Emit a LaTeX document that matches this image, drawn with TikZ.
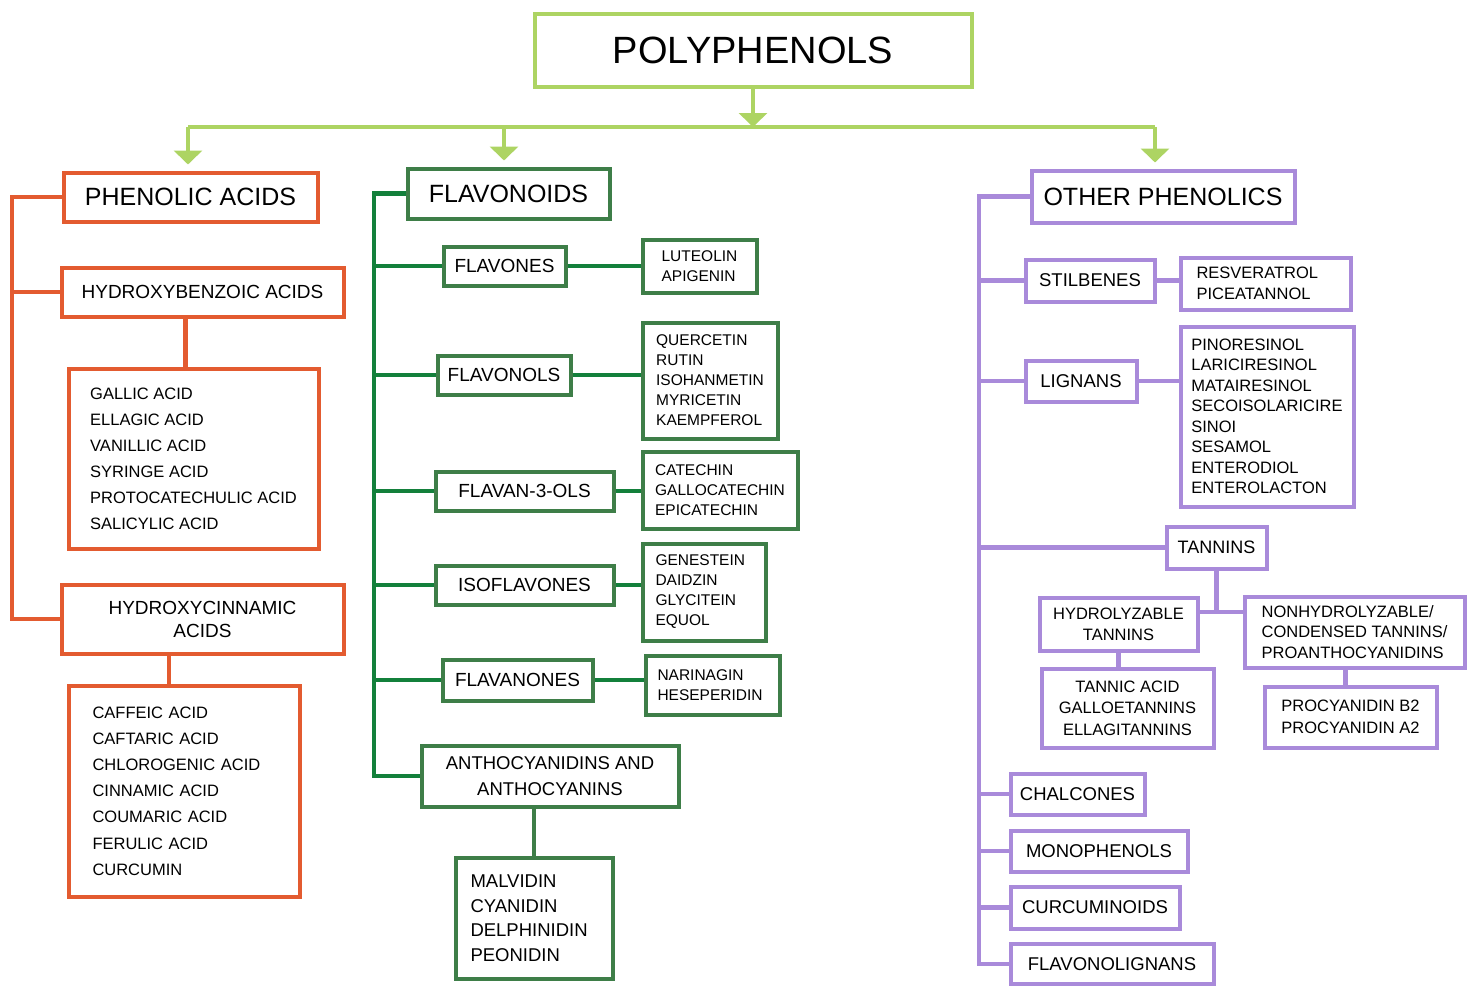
\documentclass[tikz,border=0pt]{standalone}
\usepackage{fontspec}
\setmainfont{Liberation Sans}
\usepackage{xcolor}
\usepackage{tikz}
\usetikzlibrary{arrows.meta}

\definecolor{lgreen}{HTML}{ADD463}
\definecolor{orng}{HTML}{E35B30}
\definecolor{dgreen}{HTML}{3E7E48}
\definecolor{lnkgreen}{HTML}{13803B}
\definecolor{purp}{HTML}{A98ADA}

\begin{document}
\begin{tikzpicture}[x=1pt,y=-1pt]
	\tikzstyle{box}=[draw, line width=4pt, inner sep=0pt, align=center]
	\tikzstyle{head}=[box, font=\fontsize{25}{30}\selectfont]
	\tikzstyle{sub}=[box, font=\fontsize{19}{23}\selectfont]
	\tikzstyle{items}=[box, align=left, font=\fontsize{15.5}{20}\selectfont]
	\tikzstyle{link}=[line width=4.5pt]
	\tikzstyle{arr}=[link, draw=lgreen, -{Triangle[width=28pt,length=14pt]}]
	\useasboundingbox (0,0) rectangle (1467,986);

	% top level
	\node[box, draw=lgreen, minimum width=437pt, minimum height=73pt, font=\fontsize{38}{40}\selectfont] (poly) at (753,50) {POLYPHENOLS};
	\node[head, draw=orng, minimum width=254pt, minimum height=49pt] (phen) at (190.5,197) {PHENOLIC ACIDS};
	\node[head, draw=dgreen, minimum width=202pt, minimum height=50pt] (flav) at (508.5,193.5) {FLAVONOIDS};
	\node[head, draw=purp, minimum width=263pt, minimum height=52pt] (other) at (1163,196.5) {OTHER PHENOLICS};
	\coordinate (bus) at (753,127);
	\coordinate (b1) at (188,127);
	\coordinate (b2) at (504,127);
	\coordinate (b3) at (1155,127);
	\draw[link, draw=lgreen] (b1) -- (b3);
	\draw[arr] (poly.south) -- (bus);
	\draw[arr, shorten >=6pt] (b1) -- (b1 |- phen.north);
	\draw[arr, shorten >=6pt] (b2) -- (b2 |- flav.north);
	\draw[arr, shorten >=6pt] (b3) -- (b3 |- other.north);

	% phenolic acids
	\node[sub, draw=orng, minimum width=282pt, minimum height=49pt] (hba) at (202.5,292) {HYDROXYBENZOIC ACIDS};
	\node[items, draw=orng, minimum width=250pt, minimum height=180pt, font=\fontsize{16.5}{26}\selectfont] (hbal) at (193.5,458.5) {GALLIC ACID\\ELLAGIC ACID\\VANILLIC ACID\\SYRINGE ACID\\PROTOCATECHULIC ACID\\SALICYLIC ACID};
	\node[sub, draw=orng, minimum width=282pt, minimum height=69pt] (hca) at (202.5,619) {HYDROXYCINNAMIC\\ACIDS};
	\node[items, draw=orng, minimum width=231pt, minimum height=211pt, text width=183pt, font=\fontsize{16.5}{26.2}\selectfont] (hcal) at (184,791) {CAFFEIC ACID\\CAFTARIC ACID\\CHLOROGENIC ACID\\CINNAMIC ACID\\COUMARIC ACID\\FERULIC ACID\\CURCUMIN};
	\coordinate (ot) at (12,197);
	\draw[link, draw=orng] (phen.west) -- (ot) |- (hca.west);
	\draw[link, draw=orng] (hba.west) -- (hba.west -| ot);
	\draw[link, draw=orng] ([xshift=-8pt]hbal.north) -- ([xshift=-8pt]hbal.north |- hba.south);
	\draw[link, draw=orng] ([xshift=-15pt]hcal.north) -- ([xshift=-15pt]hcal.north |- hca.south);

	% flavonoids
	\node[sub, draw=dgreen, minimum width=122pt, minimum height=39pt] (fnes) at (504.5,266) {FLAVONES};
	\node[items, draw=dgreen, minimum width=114pt, minimum height=53pt] (fnesl) at (699.5,266) {LUTEOLIN\\APIGENIN};
	\node[sub, draw=dgreen, minimum width=133pt, minimum height=39pt] (fnol) at (504,375) {FLAVONOLS};
	\node[items, draw=dgreen, minimum width=135pt, minimum height=116pt] (fnoll) at (710,380.5) {QUERCETIN\\RUTIN\\ISOHANMETIN\\MYRICETIN\\KAEMPFEROL};
	\node[sub, draw=dgreen, minimum width=178pt, minimum height=39pt] (f3) at (524.5,491) {FLAVAN-3-OLS};
	\node[items, draw=dgreen, minimum width=155pt, minimum height=77pt] (f3l) at (720,490) {CATECHIN\\GALLOCATECHIN\\EPICATECHIN};
	\node[sub, draw=dgreen, minimum width=178pt, minimum height=39pt] (iso) at (524.5,585) {ISOFLAVONES};
	\node[items, draw=dgreen, minimum width=123pt, minimum height=97pt, text width=97pt] (isol) at (704,592) {GENESTEIN\\DAIDZIN\\GLYCITEIN\\EQUOL};
	\node[sub, draw=dgreen, minimum width=150pt, minimum height=41pt] (fnon) at (517.5,680) {FLAVANONES};
	\node[items, draw=dgreen, minimum width=134pt, minimum height=59pt, text width=110pt] (fnonl) at (712.5,685) {NARINAGIN\\HESEPERIDIN};
	\node[sub, draw=dgreen, minimum width=257pt, minimum height=61pt, font=\fontsize{18.5}{26}\selectfont] (anth) at (550,776) {ANTHOCYANIDINS AND\\ANTHOCYANINS};
	\node[items, draw=dgreen, minimum width=157pt, minimum height=121pt, text width=127pt, font=\fontsize{18.5}{24.5}\selectfont] (anthl) at (534,918) {MALVIDIN\\CYANIDIN\\DELPHINIDIN\\PEONIDIN};
	\coordinate (gt) at (374,193.5);
	\draw[link, draw=lnkgreen] (flav.west) -- (gt) |- (anth.west);
	\foreach \n in {fnes, fnol, f3, iso, fnon}
		\draw[link, draw=lnkgreen] (\n.west) -- (\n.west -| gt);
	\draw[link, draw=lnkgreen] (fnes.east) -- (fnesl.west);
	\draw[link, draw=lnkgreen] (fnol.east) -- (fnol.east -| fnoll.west);
	\draw[link, draw=lnkgreen] (f3.east) -- (f3.east -| f3l.west);
	\draw[link, draw=lnkgreen] (iso.east) -- (iso.east -| isol.west);
	\draw[link, draw=lnkgreen] (fnon.east) -- (fnon.east -| fnonl.west);
	\draw[link, draw=dgreen] (anthl.north) -- (anthl.north |- anth.south);

	% other phenolics
	\node[sub, draw=purp, minimum width=129pt, minimum height=42pt, font=\fontsize{18.5}{22}\selectfont] (stil) at (1090,280.5) {STILBENES};
	\node[items, draw=purp, minimum width=170pt, minimum height=52pt, text width=138pt, font=\fontsize{16.5}{21}\selectfont] (still) at (1265.5,283.5) {RESVERATROL\\PICEATANNOL};
	\node[sub, draw=purp, minimum width=111pt, minimum height=41pt, font=\fontsize{18.5}{22}\selectfont] (lig) at (1081,381) {LIGNANS};
	\node[items, draw=purp, minimum width=173pt, minimum height=180pt, font=\fontsize{16.5}{20.5}\selectfont] (ligl) at (1267,416.5) {PINORESINOL\\LARICIRESINOL\\MATAIRESINOL\\SECOISOLARICIRE\\SINOI\\SESAMOL\\ENTERODIOL\\ENTEROLACTON};
	\node[sub, draw=purp, minimum width=100pt, minimum height=42pt, font=\fontsize{18}{22}\selectfont] (tan) at (1216.5,547.5) {TANNINS};
	\node[sub, draw=purp, minimum width=158pt, minimum height=53pt, font=\fontsize{16.5}{21}\selectfont] (htan) at (1118.5,624) {HYDROLYZABLE\\TANNINS};
	\node[sub, draw=purp, minimum width=172pt, minimum height=79pt, font=\fontsize{16.5}{21.5}\selectfont] (htanl) at (1127.5,708) {TANNIC ACID\\GALLOETANNINS\\ELLAGITANNINS};
	\node[items, draw=purp, minimum width=220pt, minimum height=71pt, font=\fontsize{16.5}{20.5}\selectfont] (ntan) at (1354.5,632) {NONHYDROLYZABLE/\\CONDENSED TANNINS/\\PROANTHOCYANIDINS};
	\node[items, draw=purp, minimum width=172pt, minimum height=61pt, font=\fontsize{16.5}{22}\selectfont] (ntanl) at (1350.5,717) {PROCYANIDIN B2\\PROCYANIDIN A2};
	\node[sub, draw=purp, minimum width=134pt, minimum height=41pt, font=\fontsize{18.5}{22}\selectfont] (chal) at (1077.5,794) {CHALCONES};
	\node[sub, draw=purp, minimum width=177pt, minimum height=41pt, font=\fontsize{18.5}{22}\selectfont] (mono) at (1099,851) {MONOPHENOLS};
	\node[sub, draw=purp, minimum width=169pt, minimum height=42pt, font=\fontsize{18.5}{22}\selectfont] (curc) at (1095,907.5) {CURCUMINOIDS};
	\node[sub, draw=purp, minimum width=203pt, minimum height=40pt, font=\fontsize{18.5}{22}\selectfont] (flig) at (1112,964) {FLAVONOLIGNANS};
	\coordinate (pt) at (979,196.5);
	\coordinate (tj) at (1218,612);
	\draw[link, draw=purp] (other.west) -- (pt) |- (flig.west);
	\foreach \n in {stil, lig, tan, chal, mono, curc}
		\draw[link, draw=purp] (\n.west) -- (\n.west -| pt);
	\draw[link, draw=purp] (stil.east) -- (stil.east -| still.west);
	\draw[link, draw=purp] (lig.east) -- (lig.east -| ligl.west);
	\draw[link, draw=purp] (tan.south) -- (tan.south |- tj);
	\draw[link, draw=purp] (htan.east |- tj) -- (ntan.west |- tj);
	\draw[link, draw=purp] (htan.south) -- (htan.south |- htanl.north);
	\draw[link, draw=purp] ([xshift=-5pt]ntanl.north) -- ([xshift=-5pt]ntanl.north |- ntan.south);
\end{tikzpicture}
\end{document}
